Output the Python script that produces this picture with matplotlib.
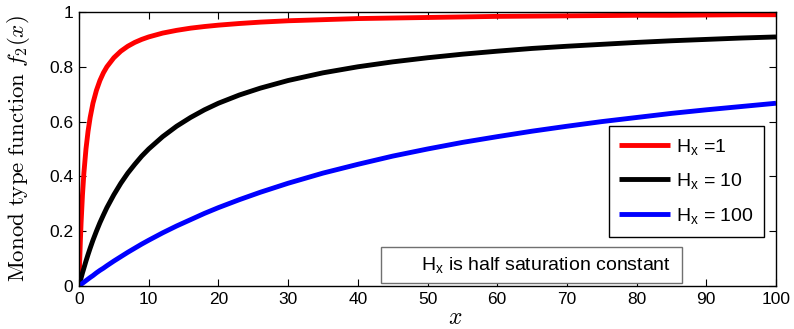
import matplotlib
matplotlib.use('Agg')
import matplotlib.pyplot as plt
from matplotlib.patches import Rectangle

# values
x_vals = [0, 0.1, 0.2, 0.3, 0.5, 0.7, 1, 1.3, 1.6, 2, 2.5, 3, 3.5, 4, 5, 6, 7,
          8, 9, 10, 12, 14, 16, 18, 20, 23, 26, 30, 35, 40, 45, 50, 55, 60, 65,
          70, 75, 80, 85, 90, 95, 100]
f_h1 = [0, .091, .167, .231, .333, .412, .5, .565, .615, .667, .714, .75,
        .778, .8, .833, .857, .875, .889, .9, .909, .923, .933, .941, .947,
        .952, .958, .963, .968, .972, .976, .978, .98, .982, .984, .985, .986,
        .987, .988, .988, .989, .99, .99]
f_h10 = [0, .0099, .0196, .029, .048, .065, .091, .115, .138, .167, .2, .231,
         .259, .286, .333, .375, .412, .444, .474, .5, .545, .583, .615, .643,
         .667, .697, .722, .75, .778, .8, .818, .833, .846, .857, .867, .875,
         .882, .889, .895, .9, .905, .909]
f_h100 = [0, .002, .004, .006, .0099, .0138, .0196, .0253, .031, .038, .048,
          .057, .065, .074, .091, .107, .123, .138, .153, .167, .194, .219,
          .242, .265, .286, .315, .342, .375, .412, .444, .474, .5, .524, .545,
          .565, .583, .6, .615, .63, .643, .655, .667]
labels = [r'H$_{\mathregular{x}}$ =1', r'H$_{\mathregular{x}}$ = 10',
          r'H$_{\mathregular{x}}$ = 100']
colors = ['#ff0000', '#000000', '#0000ff']
x_ticks = [0, 10, 20, 30, 40, 50, 60, 70, 80, 90, 100]
y_ticks = [0, 0.2, 0.4, 0.6, 0.8, 1]

plt.rcParams['font.family'] = ['Liberation Sans', 'DejaVu Sans']
plt.rcParams['mathtext.fontset'] = 'custom'
plt.rcParams['mathtext.rm'] = 'Liberation Sans'
plt.rcParams['mathtext.it'] = 'Liberation Sans:italic'

fig = plt.figure(figsize=(7.94, 3.29), dpi=100)
ax = fig.add_axes([79 / 794, 1 - 286 / 329, 697 / 794, 274 / 329])

for ys, lab, c in zip([f_h1, f_h10, f_h100], labels, colors):
    ax.plot(x_vals, ys, color=c, linewidth=3.5, label=lab,
            solid_capstyle='butt')

ax.set_xlim(0, 100)
ax.set_ylim(0, 1)
ax.set_xticks(x_ticks)
ax.set_yticks(y_ticks)
ax.set_xticklabels([str(t) for t in x_ticks])
ax.set_yticklabels(['0', '0.2', '0.4', '0.6', '0.8', '1'])
ax.tick_params(direction='in', top=True, right=True, length=5, width=0.8,
               labelsize=12.5, pad=4)
for s in ax.spines.values():
    s.set_linewidth(1.0)

ax.set_xlabel(r'$x$', fontsize=17, math_fontfamily='cm')
ax.xaxis.set_label_coords(0.54, -0.075)
ax.set_ylabel(r'$\mathrm{Monod\ type\ function}\ f_2(x)$', fontsize=16.5,
              math_fontfamily='cm')
ax.yaxis.set_label_coords(-0.068, 0.5)

leg = ax.legend(loc='upper right', bbox_to_anchor=(0.983, 0.584),
                borderaxespad=0, fontsize=14, handlelength=2.6,
                fancybox=False, framealpha=1, edgecolor='black',
                labelspacing=0.75, handletextpad=0.3, borderpad=0.55)
leg.get_frame().set_linewidth(1.0)

# annotation box
ax.add_patch(Rectangle((0.434, 0.012), 0.431, 0.131, transform=ax.transAxes,
                       facecolor='white', edgecolor='#707070', linewidth=1.0,
                       zorder=3))
ax.text(0.67, 0.078, r'H$_{\mathregular{x}}$ is half saturation constant',
        transform=ax.transAxes, ha='center', va='center', fontsize=14,
        zorder=4)

fig.savefig('out.png', dpi=100)
